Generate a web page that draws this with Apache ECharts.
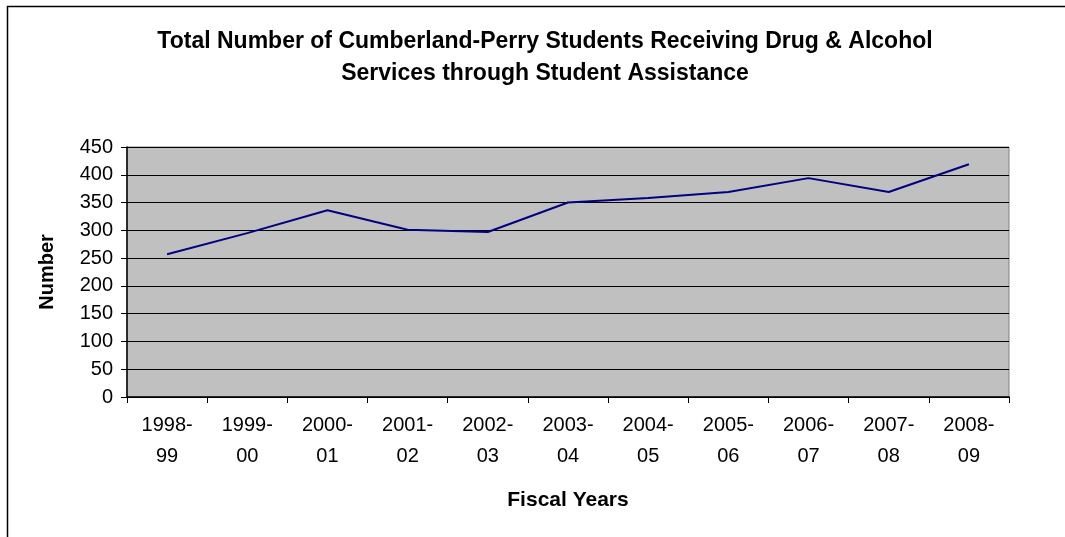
<!DOCTYPE html>
<html>
<head>
<meta charset="utf-8">
<script src="https://cdn.jsdelivr.net/npm/echarts@6/dist/echarts.min.js"></script>
<style>
html,body{margin:0;padding:0;background:#fff;}
#c{width:1065px;height:537px;}
</style>
</head>
<body>
<div id="c"></div>
<script>
var categories = ['1998-\n99','1999-\n00','2000-\n01','2001-\n02','2002-\n03','2003-\n04','2004-\n05','2005-\n06','2006-\n07','2007-\n08','2008-\n09'];
var values = [257, 295, 336, 301, 297, 350, 358, 369, 394, 369, 419];
var titleText = 'Total Number of Cumberland-Perry Students Receiving Drug & Alcohol\nServices through Student Assistance';

var chart = echarts.init(document.getElementById('c'));
var font = '"Liberation Sans", Arial, sans-serif';
chart.setOption({
  animation: false,
  backgroundColor: '#fff',
  graphic: [{
    type: 'rect', shape: {x: 7.5, y: 6.5, width: 1200, height: 700},
    style: {fill: 'none', stroke: '#000', lineWidth: 1.5}, silent: true
  }],
  title: {
    text: titleText, left: 540, top: 21,
    textAlign: 'center',
    textStyle: {fontFamily: font, fontWeight: 'bold', fontSize: 23, lineHeight: 32, color: '#000'}
  },
  grid: {left: 127, right: 56, top: 147, bottom: 140, show: true, backgroundColor: '#c0c0c0', borderColor: '#808080', borderWidth: 1},
  xAxis: {
    type: 'category', data: categories, boundaryGap: true,
    name: 'Fiscal Years', nameLocation: 'middle', nameGap: 93,
    nameTextStyle: {fontFamily: font, fontWeight: 'bold', fontSize: 21, color: '#000'},
    axisLine: {lineStyle: {color: '#000', width: 1.5}},
    axisTick: {show: true, length: 6, lineStyle: {color: '#000'}},
    axisLabel: {fontFamily: font, fontSize: 20, color: '#000', lineHeight: 31, margin: 13, interval: 0},
    splitLine: {show: false}
  },
  yAxis: {
    type: 'value', min: 0, max: 450, interval: 50,
    name: 'Number', nameLocation: 'middle', nameGap: 70, nameRotate: 90,
    nameTextStyle: {fontFamily: font, fontWeight: 'bold', fontSize: 20, color: '#000'},
    axisLine: {show: true, lineStyle: {color: '#000', width: 1.5}},
    axisTick: {show: true, length: 6, lineStyle: {color: '#000'}},
    axisLabel: {fontFamily: font, fontSize: 20, color: '#000', margin: 14},
    splitLine: {show: true, lineStyle: {color: '#000', width: 1}}
  },
  series: [{
    type: 'line', data: values, showSymbol: false, symbol: 'none',
    lineStyle: {color: '#000080', width: 2}, itemStyle: {color: '#000080'}
  }]
});
</script>
</body>
</html>
